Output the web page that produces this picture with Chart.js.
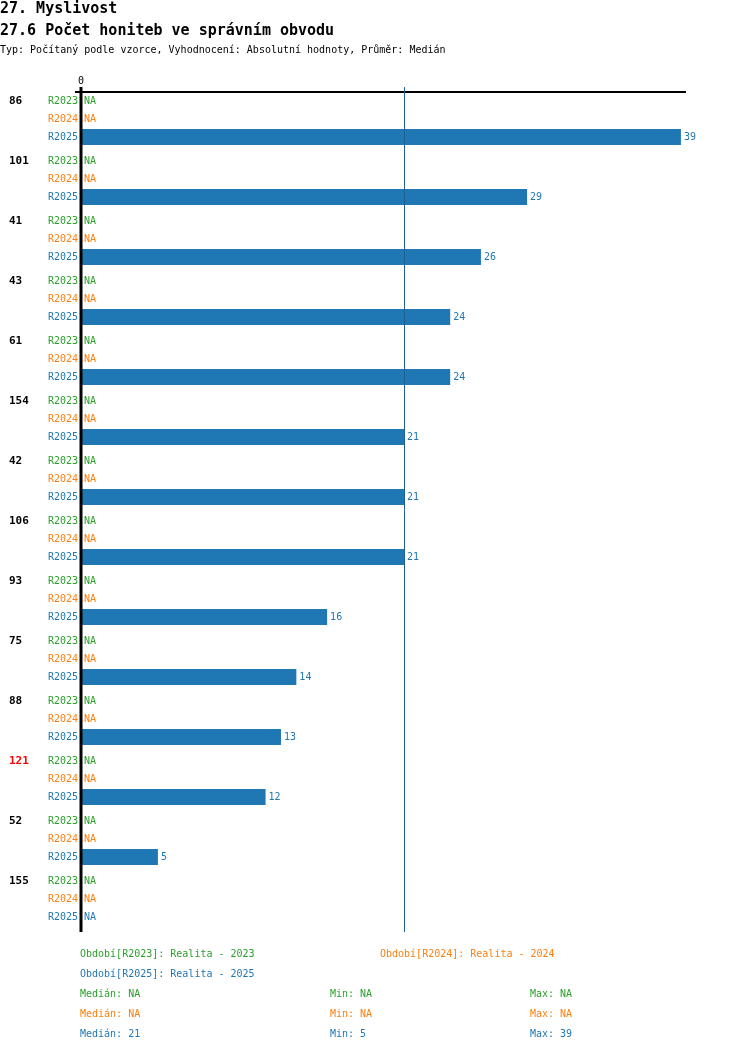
<!DOCTYPE html>
<html>
<head>
<meta charset="utf-8">
<script src="https://cdn.jsdelivr.net/npm/chart.js@4/dist/chart.umd.min.js"></script>
<style>
  body { margin: 0; background: #fff; font-family: "DejaVu Sans Mono", monospace; }
  #wrap { position: relative; width: 750px; height: 1052px; }
  .h1 { position: absolute; left: 0; font-weight: bold; font-size: 15px; line-height: 16px; }
  .h3 { position: absolute; left: 0; font-size: 10px; line-height: 16px; }
  canvas { position: absolute; left: 0; top: 0; }
  .foot { position: absolute; font-size: 10px; line-height: 20px; white-space: pre; }
</style>
</head>
<body>
<div id="wrap">
  <canvas id="myChart" width="750" height="945"></canvas>
  <div class="h1" style="top:0px">27. Myslivost</div>
  <div class="h1" style="top:22px">27.6 Počet honiteb ve správním obvodu</div>
  <div class="h3" style="top:42px">Typ: Počítaný podle vzorce, Vyhodnocení: Absolutní hodnoty, Průměr: Medián</div>
  <div id="footer"></div>
</div>
<script>
// groups (territorial units) and series values, top to bottom
const groups = ["86", "101", "41", "43", "61", "154", "42", "106", "93", "75", "88", "121", "52", "155"];
const highlight = "121";
const seriesNames = ["R2023", "R2024", "R2025"];
const seriesTitles = ["Realita - 2023", "Realita - 2024", "Realita - 2025"];
const seriesColors = ["#2ca02c", "#ff7f0e", "#1f77b4"];
const r2023 = [null, null, null, null, null, null, null, null, null, null, null, null, null, null];
const r2024 = [null, null, null, null, null, null, null, null, null, null, null, null, null, null];
const r2025 = [39, 29, 26, 24, 24, 21, 21, 21, 16, 14, 13, 12, 5, null];
const xTicks = [0];

const seriesData = [r2023, r2024, r2025];
const FONT = '"DejaVu Sans Mono", monospace';

function stats(arr) {
  const v = arr.filter(x => x !== null).sort((a, b) => a - b);
  if (!v.length) return { med: "NA", min: "NA", max: "NA" };
  const m = v.length % 2 ? v[(v.length - 1) / 2] : (v[v.length / 2 - 1] + v[v.length / 2]) / 2;
  return { med: m, min: v[0], max: v[v.length - 1] };
}
const allStats = seriesData.map(stats);
const refMedian = allStats[2].med;

// footer text
const footer = document.getElementById("footer");
function addFoot(text, left, top, color) {
  const d = document.createElement("div");
  d.className = "foot";
  d.style.left = left + "px";
  d.style.top = top + "px";
  d.style.color = color;
  d.textContent = text;
  footer.appendChild(d);
}
addFoot("Období[" + seriesNames[0] + "]: " + seriesTitles[0], 80, 944, seriesColors[0]);
addFoot("Období[" + seriesNames[1] + "]: " + seriesTitles[1], 380, 944, seriesColors[1]);
addFoot("Období[" + seriesNames[2] + "]: " + seriesTitles[2], 80, 964, seriesColors[2]);
allStats.forEach((s, i) => {
  const top = 984 + i * 20;
  addFoot("Medián: " + s.med, 80, top, seriesColors[i]);
  addFoot("Min: " + s.min, 330, top, seriesColors[i]);
  addFoot("Max: " + s.max, 530, top, seriesColors[i]);
});

// draws axis lines, row labels, NA / value labels
const labelsPlugin = {
  id: "rowLabels",
  afterDatasetsDraw(chart) {
    const ctx = chart.ctx;
    const x = chart.scales.x;
    const area = chart.chartArea;
    const x0 = x.getPixelForValue(0);
    ctx.save();

    // top axis line
    ctx.strokeStyle = "#000";
    ctx.lineWidth = 2;
    ctx.beginPath();
    ctx.moveTo(x0 - 6, area.top + 3);
    ctx.lineTo(area.right, area.top + 3);
    ctx.stroke();

    // median line
    if (refMedian !== "NA") {
      const xm = Math.round(x.getPixelForValue(refMedian)) + 0.5;
      ctx.strokeStyle = "#1f5f8f";
      ctx.lineWidth = 1;
      ctx.beginPath();
      ctx.moveTo(xm, area.top - 2);
      ctx.lineTo(xm, area.bottom + 3);
      ctx.stroke();
    }

    // zero axis line
    ctx.strokeStyle = "#000";
    ctx.lineWidth = 3;
    ctx.beginPath();
    ctx.moveTo(x0, area.top - 2);
    ctx.lineTo(x0, area.bottom + 3);
    ctx.stroke();

    // x tick labels
    ctx.fillStyle = "#000";
    ctx.font = "10px " + FONT;
    ctx.textAlign = "center";
    ctx.textBaseline = "middle";
    xTicks.forEach(t => ctx.fillText(String(t), x.getPixelForValue(t), area.top - 8));

    chart.data.datasets.forEach((ds, di) => {
      const meta = chart.getDatasetMeta(di);
      meta.data.forEach((el, i) => {
        const y = el.y;
        ctx.font = "10px " + FONT;
        ctx.fillStyle = seriesColors[di];
        ctx.textAlign = "right";
        ctx.fillText(seriesNames[di], x0 - 3, y);
        ctx.textAlign = "left";
        const v = ds.data[i];
        if (v === null) {
          ctx.fillText("NA", x0 + 3, y);
        } else {
          ctx.fillText(String(v), x.getPixelForValue(v) + 3, y);
        }
        if (di === 0) {
          ctx.font = "bold 11px " + FONT;
          ctx.fillStyle = groups[i] === highlight ? "#ff0000" : "#000";
          ctx.fillText(groups[i], 9, y);
        }
      });
    });
    ctx.restore();
  }
};

const ctx = document.getElementById("myChart").getContext("2d");
new Chart(ctx, {
  type: "bar",
  data: {
    labels: groups,
    datasets: seriesData.map((d, i) => ({
      label: seriesNames[i],
      data: d,
      backgroundColor: "#1f77b4",
      borderWidth: 0,
      categoryPercentage: 0.9,
      barPercentage: 16 / 18
    }))
  },
  options: {
    indexAxis: "y",
    responsive: false,
    animation: false,
    devicePixelRatio: 1,
    layout: { padding: { left: 81, right: 64, top: 89, bottom: 16 } },
    plugins: {
      legend: { display: false },
      tooltip: { enabled: false }
    },
    scales: {
      x: { display: false, min: 0, max: 39.33 },
      y: { display: false }
    }
  },
  plugins: [labelsPlugin]
});
</script>
</body>
</html>
